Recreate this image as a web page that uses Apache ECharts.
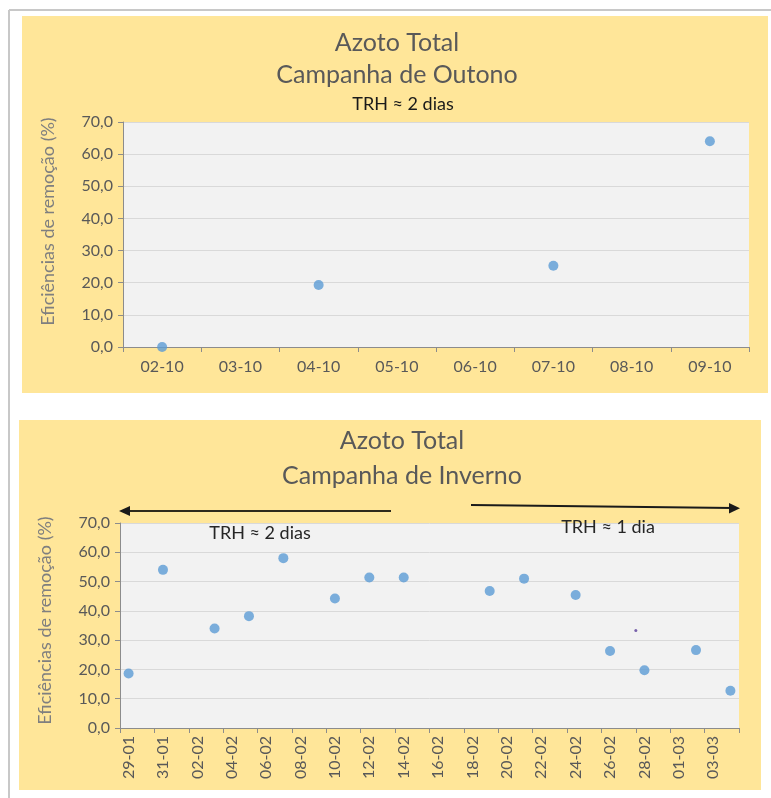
<!DOCTYPE html>
<html>
<head>
<meta charset="utf-8">
<script src="https://cdn.jsdelivr.net/npm/echarts@6/dist/echarts.min.js"></script>
<style>
html,body{margin:0;padding:0;background:#fff;}
#c{width:771px;height:798px;}
</style>
</head>
<body>
<div id="c"></div>
<script>
// ---- Data ----
const topCategories = ['02-10','03-10','04-10','05-10','06-10','07-10','08-10','09-10'];
const topDates = ['02-10','04-10','07-10','09-10'];
const topValues = [0.0, 19.3, 25.3, 64.0];

const bottomCategories = ['29-01','30-01','31-01','01-02','02-02','03-02','04-02','05-02','06-02','07-02',
  '08-02','09-02','10-02','11-02','12-02','13-02','14-02','15-02','16-02','17-02','18-02','19-02','20-02',
  '21-02','22-02','23-02','24-02','25-02','26-02','27-02','28-02','29-02','01-03','02-03','03-03','04-03'];
const bottomDates = ['29-01','31-01','03-02','05-02','07-02','10-02','12-02','14-02','19-02','21-02','24-02','26-02','28-02','02-03','04-03'];
const bottomValues = [18.6, 54.0, 34.0, 38.2, 58.0, 44.2, 51.4, 51.4, 46.8, 51.0, 45.4, 26.3, 19.7, 26.6, 12.7];
// small stray mark (day offset from 29-01, value)
const strayX = [30.0];
const strayY = [33.3];

const yTicks = [0, 10, 20, 30, 40, 50, 60, 70];

const FONT = 'Lato';
const LABEL = '#595959';

function yAxisCfg(gi, shift) {
  return {
    type: 'value', gridIndex: gi, min: yTicks[0], max: yTicks[yTicks.length - 1], interval: 10,
    name: 'Eficiências de remoção (%)', nameLocation: 'middle', nameGap: 66, nameRotate: 90,
    nameTextStyle: {color: '#7f7f7f', fontFamily: FONT, fontSize: 18, padding: [0, 0, 0, shift]},
    axisLine: {show: true, lineStyle: {color: '#8c8c8c', width: 1}},
    axisTick: {show: true, inside: false, length: 5, lineStyle: {color: '#8c8c8c'}},
    axisLabel: {color: LABEL, fontFamily: FONT, fontSize: 16, margin: 10,
      formatter: v => v.toFixed(1).replace('.', ',')},
    splitLine: {show: true, lineStyle: {color: '#d9d9d9', width: 1}}
  };
}

const chart = echarts.init(document.getElementById('c'));
chart.setOption({
  backgroundColor: '#ffffff',
  animation: false,
  graphic: [
    // outer frame
    {type: 'line', shape: {x1: 9, y1: 10, x2: 771, y2: 10}, style: {stroke: '#c8c8c8', lineWidth: 2}, z: 0},
    {type: 'line', shape: {x1: 9, y1: 10, x2: 9, y2: 798}, style: {stroke: '#c8c8c8', lineWidth: 2}, z: 0},
    // panel backgrounds
    {type: 'rect', shape: {x: 22, y: 16, width: 746, height: 377}, style: {fill: '#ffe699'}, z: -10},
    {type: 'rect', shape: {x: 19, y: 420, width: 742, height: 370}, style: {fill: '#ffe699'}, z: -10},
    // titles
    {type: 'text', x: 397, y: 43, style: {text: 'Azoto Total', fill: LABEL, font: '25px ' + FONT, textAlign: 'center', textVerticalAlign: 'middle'}},
    {type: 'text', x: 397, y: 75, style: {text: 'Campanha de Outono', fill: LABEL, font: '25px ' + FONT, textAlign: 'center', textVerticalAlign: 'middle'}},
    {type: 'text', x: 403, y: 104, style: {text: 'TRH ≈ 2 dias', fill: '#1a1a1a', font: '18px ' + FONT, textAlign: 'center', textVerticalAlign: 'middle'}},
    {type: 'text', x: 402, y: 441, style: {text: 'Azoto Total', fill: LABEL, font: '25px ' + FONT, textAlign: 'center', textVerticalAlign: 'middle'}},
    {type: 'text', x: 402, y: 476, style: {text: 'Campanha de Inverno', fill: LABEL, font: '25px ' + FONT, textAlign: 'center', textVerticalAlign: 'middle'}},
    {type: 'text', x: 260, y: 533, style: {text: 'TRH ≈ 2 dias', fill: '#262626', font: '18px ' + FONT, textAlign: 'center', textVerticalAlign: 'middle'}, z: 20},
    {type: 'text', x: 608, y: 527, style: {text: 'TRH ≈ 1 dia', fill: '#262626', font: '18px ' + FONT, textAlign: 'center', textVerticalAlign: 'middle'}, z: 20},
    // arrows
    {type: 'line', shape: {x1: 126, y1: 511, x2: 391, y2: 511}, style: {stroke: '#2e2a1c', lineWidth: 2}, z: 20},
    {type: 'polygon', shape: {points: [[119, 511], [130, 506], [130, 516]]}, style: {fill: '#1a1a1a'}, z: 20},
    {type: 'line', shape: {x1: 471, y1: 505, x2: 733, y2: 508}, style: {stroke: '#1a1a1a', lineWidth: 2}, z: 20},
    {type: 'polygon', shape: {points: [[740, 508.3], [729, 503], [729, 513.5]]}, style: {fill: '#1a1a1a'}, z: 20}
  ],
  grid: [
    {left: 123, top: 122, right: 22, bottom: 451, show: true, backgroundColor: '#f2f2f2', borderWidth: 0, containLabel: false},
    {left: 120, top: 523, right: 32, bottom: 70, show: true, backgroundColor: '#f2f2f2', borderWidth: 0, containLabel: false}
  ],
  xAxis: [
    {type: 'category', gridIndex: 0, data: topCategories, boundaryGap: true,
      axisLine: {show: true, lineStyle: {color: '#8c8c8c'}},
      axisTick: {show: true, alignWithLabel: false, length: 5, lineStyle: {color: '#8c8c8c'}},
      axisLabel: {color: LABEL, fontFamily: FONT, fontSize: 16, margin: 12},
      splitLine: {show: false}},
    {type: 'category', gridIndex: 1, data: bottomCategories, boundaryGap: true,
      axisLine: {show: true, lineStyle: {color: '#8c8c8c'}},
      axisTick: {show: true, alignWithLabel: false, interval: 1, length: 5, lineStyle: {color: '#8c8c8c'}},
      axisLabel: {color: LABEL, fontFamily: FONT, fontSize: 16, margin: 8, rotate: 90, interval: 1},
      splitLine: {show: false}},
    {type: 'value', gridIndex: 1, min: 0, max: bottomCategories.length, show: false}
  ],
  yAxis: [yAxisCfg(0, 26), yAxisCfg(1, 10)],
  series: [
    {type: 'scatter', xAxisIndex: 0, yAxisIndex: 0, symbol: 'circle', symbolSize: 10,
      itemStyle: {color: '#5b9bd5'},
      data: topDates.map((d, i) => [d, topValues[i]])},
    {type: 'scatter', xAxisIndex: 1, yAxisIndex: 1, symbol: 'circle', symbolSize: 10,
      itemStyle: {color: '#5b9bd5'},
      data: bottomDates.map((d, i) => [d, bottomValues[i]])},
    {type: 'scatter', xAxisIndex: 2, yAxisIndex: 1, symbol: 'circle', symbolSize: 3,
      itemStyle: {color: '#5a3d9a'},
      data: strayX.map((x, i) => [x, strayY[i]])}
  ]
});
</script>
</body>
</html>
